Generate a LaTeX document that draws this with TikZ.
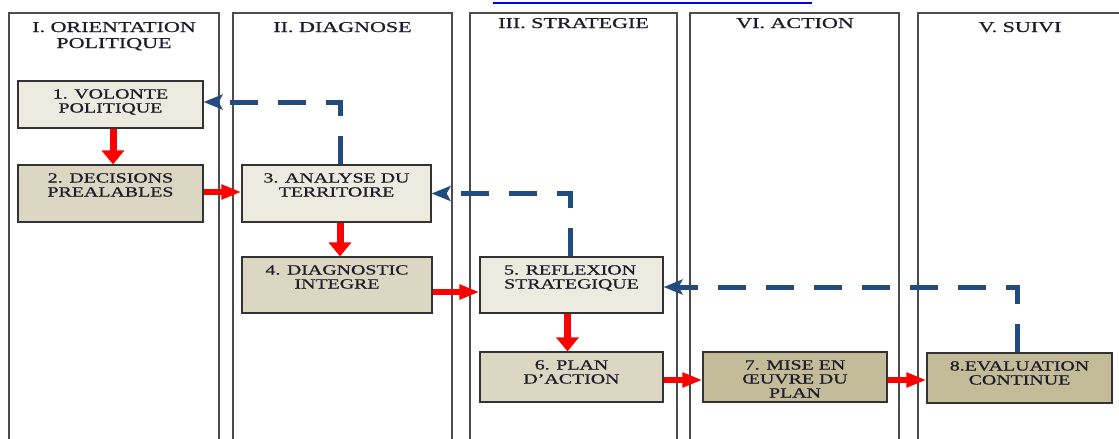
\documentclass[tikz,border=0pt]{standalone}
\usepackage{fontspec}
\setmainfont{Liberation Serif}[FakeBold=0.6]
\usepackage{graphicx}
\usetikzlibrary{arrows.meta}

\definecolor{boxlight}{HTML}{EDEBE0}
\definecolor{boxmid}{HTML}{DCD7C2}
\definecolor{boxdark}{HTML}{C4BC98}
\definecolor{dashblue}{HTML}{224B80}
\definecolor{txtcol}{HTML}{1C1C2A}
\definecolor{linkblue}{HTML}{0000FF}

\newcommand{\boxtxt}[2][c]{\scalebox{1.42}[1]{\begin{tabular}[t]{@{}#1@{}}#2\end{tabular}}}
\newcommand{\headtxt}[1]{\scalebox{1.47}[1]{\begin{tabular}[t]{@{}c@{}}#1\end{tabular}}}

\begin{document}
\begin{tikzpicture}[x=1pt,y=-1pt,
    lane/.style={draw=black!70,line width=1.3pt},
    head/.style={anchor=base,inner sep=0pt,text=txtcol,font=\fontsize{15}{16}\selectfont},
    stage/.style={draw=black!80,line width=1.2pt,inner sep=0pt,text height=17.5pt,
      text=txtcol,font=\fontsize{14}{14}\selectfont},
    redv/.style={red,line width=7pt,-{Triangle[length=14pt,width=22pt]}},
    redh/.style={red,line width=5.5pt,-{Triangle[length=20pt,width=14pt]}},
    bluedash/.style={dashblue,line width=5pt,dash pattern=on 28pt off 20pt,
      -{Stealth[length=19pt,width=15pt,inset=4pt]}}]
  \useasboundingbox (0,0) rectangle (1119,439);
  % link underline at the top
  \draw[linkblue,line width=2pt] (493,2.5) -- (812,2.5);
  % lanes
  \draw[lane] (9,13) rectangle (219,445);
  \draw[lane] (233,13) rectangle (452,445);
  \draw[lane] (470,13) rectangle (677,445);
  \draw[lane] (690,13) rectangle (899,445);
  \draw[lane] (918,13) rectangle (1125,445);
  \node[head] (hd1) at (114,32) {\headtxt{I. ORIENTATION\\POLITIQUE}};
  \node[head] (hd2) at (342.5,32) {\headtxt{II. DIAGNOSE}};
  \node[head] (hd3) at (573.5,28) {\headtxt{III. STRATEGIE}};
  \node[head] (hd4) at (795,28) {\headtxt{VI. ACTION}};
  \node[head] (hd5) at (1020,32) {\headtxt{V. SUIVI}};
  % stages
  \node[stage,fill=boxlight,minimum width=185pt,text depth=29.5pt] (vol) at (110.5,104.5)
    {\boxtxt{1. VOLONTE\\POLITIQUE}};
  \node[stage,fill=boxmid,minimum width=185pt,text depth=39.5pt] (dec) at (110.5,193.5)
    {\boxtxt{2. DECISIONS\\PREALABLES}};
  \node[stage,fill=boxlight,minimum width=189pt,text depth=39.5pt] (ana) at (336.5,193.5)
    {\boxtxt{3. ANALYSE DU\\TERRITOIRE}};
  \node[stage,fill=boxmid,minimum width=190pt,text depth=38.5pt] (dia) at (337,285)
    {\boxtxt{4. DIAGNOSTIC\\INTEGRE}};
  \node[stage,fill=boxlight,minimum width=183pt,text depth=38.5pt] (ref) at (571.5,285)
    {\boxtxt[l]{5. REFLEXION\\STRATEGIQUE}};
  \node[stage,fill=boxmid,minimum width=183pt,text depth=32.5pt] (pla) at (571.5,377)
    {\boxtxt{6. PLAN\\D’ACTION}};
  \node[stage,fill=boxdark,minimum width=184pt,text depth=32.5pt] (mis) at (795,377)
    {\boxtxt{7. MISE EN\\ŒUVRE DU\\PLAN}};
  \node[stage,fill=boxdark,minimum width=185pt,text depth=32.5pt] (eva) at (1019.5,378)
    {\boxtxt{8.EVALUATION\\CONTINUE}};
  % main flow
  \draw[redv] ([xshift=2.5pt]vol.south) -- ([xshift=2.5pt]dec.north);
  \draw[redh] ([yshift=1.5pt]dec.east) -- ([yshift=1.5pt]ana.west);
  \draw[redv] ([xshift=3.5pt]ana.south) -- ([xshift=3pt]dia.north);
  \draw[redh] ([yshift=-7pt]dia.east) -- ([yshift=-7pt]ref.west);
  \draw[redv] ([xshift=-4pt]ref.south) -- ([xshift=-4pt]pla.north);
  \draw[redh] ([yshift=-3pt]pla.east) -- ([yshift=-3pt]mis.west);
  \draw[redh] ([yshift=-3pt]mis.east) -- ([yshift=-2pt]eva.west);
  % feedback loops
  \draw[bluedash] ([xshift=3.5pt]ana.north) |- ([yshift=2.5pt]vol.east);
  \draw[bluedash] ([xshift=-1.5pt]ref.north) |- (ana.east);
  \draw[bluedash] ([xshift=-2.5pt]eva.north) |- ([yshift=-2pt]ref.east);
\end{tikzpicture}
\end{document}
